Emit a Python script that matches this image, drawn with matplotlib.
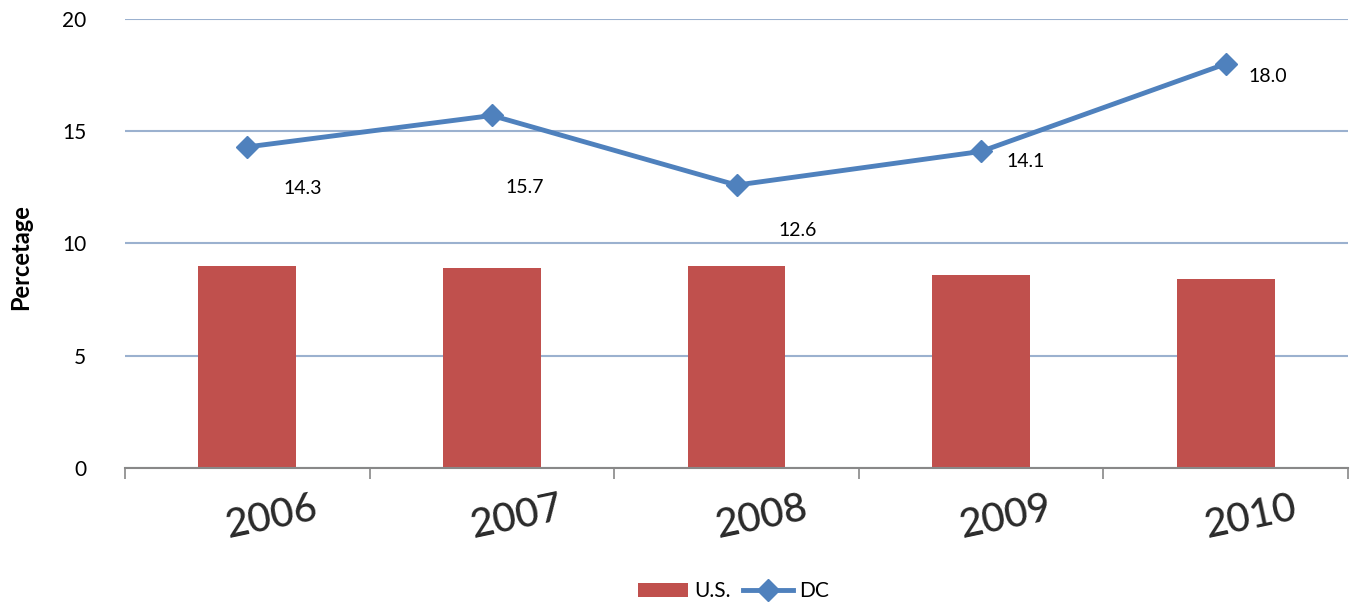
import numpy as np
import matplotlib.pyplot as plt

years = ['2006', '2007', '2008', '2009', '2010']
us = [9.0, 8.9, 9.0, 8.6, 8.4]
dc = [14.3, 15.7, 12.6, 14.1, 18.0]

# label offsets (points) for the DC values
lbl_off = [(26, -30), (10, -52), (30, -33), (18, -7), (16, -9)]

plt.rcParams['font.family'] = ['Lato', 'DejaVu Sans']

fig = plt.figure(figsize=(13.58, 6.11), dpi=100)
ax = fig.add_axes([0.092, 0.234, 0.9007, 0.735])

x = np.arange(len(years))
bars = ax.bar(x, us, width=0.4, color='#C0504D', label='U.S.', zorder=2)
line, = ax.plot(x, dc, color='#4F81BD', lw=3.5, marker='D', ms=11, label='DC', zorder=3)

for i in range(len(dc)):
    ax.annotate('%.1f' % dc[i], (x[i], dc[i]), xytext=lbl_off[i],
                textcoords='offset points', ha='left', va='center', fontsize=14)

ax.set_xlim(-0.5, len(years) - 0.5)
ax.set_ylim(0, 20)
ax.set_yticks([0, 5, 10, 15, 20])
ax.yaxis.grid(True, color='#9BB1CF', lw=1.5, zorder=0)
ax.tick_params(axis='y', length=0, labelsize=15, pad=28)

# category ticks between bars
ax.set_xticks(np.arange(-0.5, len(years)), minor=False)
ax.set_xticklabels([])
ax.tick_params(axis='x', length=8, color='#888888', width=1.2)
for i in range(len(years)):
    ax.text(x[i] + 0.1, -0.11, years[i], transform=ax.get_xaxis_transform(),
            rotation=12, ha='center', va='center', fontsize=29, fontweight='medium',
            color='#2a2a2a')

for s in ['top', 'right', 'left']:
    ax.spines[s].set_visible(False)
ax.spines['bottom'].set_color('#888888')
ax.spines['bottom'].set_linewidth(1.5)

ax.set_ylabel('Percetage', fontsize=17, fontweight='bold')
ax.yaxis.set_label_coords(-0.076, 0.47)

fig.legend([bars, line], ['U.S.', 'DC'], loc='lower center',
           bbox_to_anchor=(0.54, -0.015), ncol=2, frameon=False,
           fontsize=15, handlelength=2.4, columnspacing=0.6, handletextpad=0.3)

fig.savefig('out.png', dpi=100)
